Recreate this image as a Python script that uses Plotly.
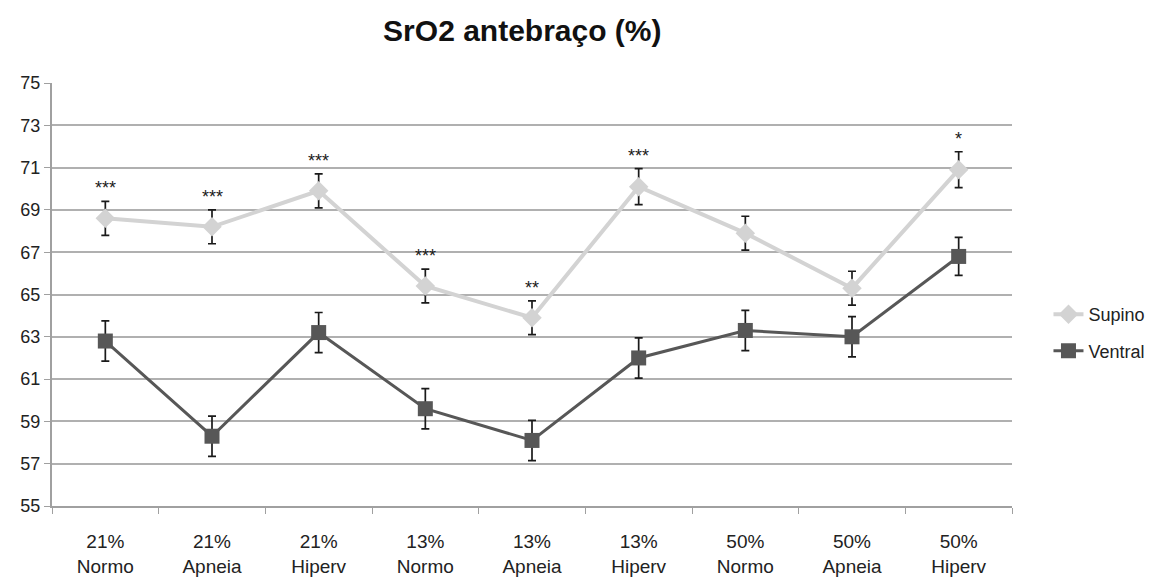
import plotly.graph_objects as go

categories = ["21%<br>Normo", "21%<br>Apneia", "21%<br>Hiperv",
              "13%<br>Normo", "13%<br>Apneia", "13%<br>Hiperv",
              "50%<br>Normo", "50%<br>Apneia", "50%<br>Hiperv"]
supino = [68.6, 68.2, 69.9, 65.4, 63.9, 70.1, 67.9, 65.3, 70.9]
supino_err = [0.8, 0.8, 0.8, 0.8, 0.8, 0.85, 0.8, 0.8, 0.85]
ventral = [62.8, 58.3, 63.2, 59.6, 58.1, 62.0, 63.3, 63.0, 66.8]
ventral_err = [0.95, 0.95, 0.95, 0.95, 0.95, 0.95, 0.95, 0.95, 0.9]
signif = ["***", "***", "***", "***", "**", "***", "", "", "*"]
y_ticks = [55, 57, 59, 61, 63, 65, 67, 69, 71, 73, 75]

fig = go.Figure()
fig.add_trace(go.Scatter(
    x=categories, y=supino, name="Supino", mode="lines+markers",
    legendgroup="s",
    line=dict(color="#d3d3d3", width=4),
    marker=dict(symbol="diamond", size=15, color="#d3d3d3"),
    error_y=dict(type="data", array=supino_err, color="#1a1a1a", thickness=1.7, width=4),
))
fig.add_trace(go.Scatter(
    x=categories, y=ventral, name="Ventral", mode="lines+markers",
    legendgroup="v",
    line=dict(color="#575757", width=3),
    marker=dict(symbol="square", size=15, color="#575757"),
    error_y=dict(type="data", array=ventral_err, color="#1a1a1a", thickness=1.7, width=4),
))

for c, v, e, s in zip(categories, supino, supino_err, signif):
    if s:
        fig.add_annotation(x=c, y=v + e, text=s, showarrow=False,
                           yanchor="bottom", yshift=1,
                           font=dict(family="Liberation Sans, Arial", size=18, color="#1a1a1a"))

fig.update_layout(
    width=1161, height=581,
    margin=dict(l=44, r=157, t=75, b=77),
    paper_bgcolor="white", plot_bgcolor="white",
    title=dict(text="<b>SrO2 antebraço (%)</b>", x=0.443, xanchor="center",
               y=0.962, yanchor="middle",
               font=dict(family="Liberation Sans, Arial", size=30, color="#111")),
    font=dict(family="Liberation Sans, Arial", size=18, color="#222"),
    showlegend=True,
    legend=dict(x=1.038, y=0.41, xanchor="left", yanchor="middle",
                font=dict(size=18, color="#222"), bgcolor="rgba(0,0,0,0)",
                tracegroupgap=10),
)
fig.update_xaxes(
    type="category", range=[-0.5, 8.5],
    showline=True, linecolor="#a0a0a0", linewidth=2,
    ticks="outside", tickson="boundaries", ticklen=6, tickcolor="#a0a0a0",
    ticklabelstandoff=17,
    showgrid=False, tickfont=dict(size=19, color="#222"),
)
fig.update_yaxes(
    range=[55, 75], tickvals=y_ticks,
    showline=True, linecolor="#a0a0a0", linewidth=2,
    ticks="outside", ticklen=6, tickcolor="#a0a0a0",
    showgrid=True, gridcolor="#b0b0b0", gridwidth=1.5,
    zeroline=False, tickfont=dict(size=18, color="#222"),
)

fig.write_html("out.html")
